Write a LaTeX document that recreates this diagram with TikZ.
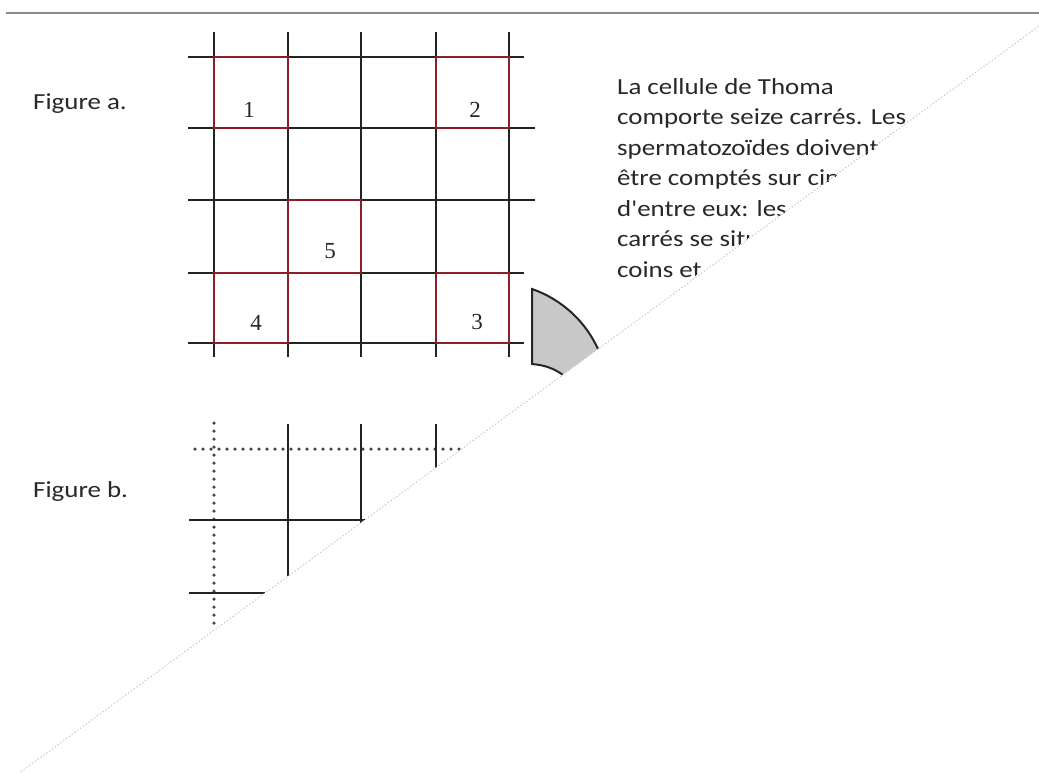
\documentclass[tikz,border=0pt]{standalone}
\usepackage{fontspec}
\setmainfont{Carlito}
\newfontfamily\numfont{Liberation Serif}
\definecolor{gridc}{RGB}{35,35,35}
\definecolor{redsq}{RGB}{140,30,40}
\definecolor{txt}{RGB}{40,40,40}
\definecolor{shapefill}{RGB}{200,200,200}
\begin{document}
\begin{tikzpicture}[x=1pt,y=-1pt,
  gridline/.style={draw=gridc, line width=1.8pt},
  redbox/.style={draw=redsq, line width=2.5pt},
  cellnum/.style={font=\numfont\fontsize{23}{23}\selectfont, text=black!85, inner sep=0pt},
  bodytext/.style={font=\fontsize{23}{23}\selectfont, text=txt, inner sep=0pt, anchor=base west},
  dotline/.style={draw=black!75, line width=3.5pt, line cap=round, dash pattern=on 0pt off 8pt},
  cutline/.style={draw=black!22, line width=0.9pt, dash pattern=on 1.5pt off 2pt},
  toprule/.style={draw=black!45, line width=2pt},
]
\path[use as bounding box, fill=white] (0,0) rectangle (1039,772);

% top rule
\coordinate (tl) at (6,13);
\coordinate (tr) at (1039,13);
\draw[toprule] (tl) -- (tr);

% labels
\node[bodytext] (figa) at (33,109) {\scalebox{1.17}[1]{Figure a.}};
\node[bodytext] (figb) at (33,497) {\scalebox{1.17}[1]{Figure b.}};

% grid a
\foreach \x in {214,288,361,436,509}
  \draw[gridline] (\x,32) -- (\x,357);
\draw[gridline] (188,57) -- (524,57);
\draw[gridline] (188,128) -- (535,128);
\draw[gridline] (188,200) -- (535,200);
\draw[gridline] (188,273) -- (524,273);
\draw[gridline] (188,343) -- (524,343);

% counted squares
\draw[redbox] (214,57) rectangle (288,128);
\draw[redbox] (436,57) rectangle (509,128);
\draw[redbox] (288,200) rectangle (361,273);
\draw[redbox] (214,273) rectangle (288,343);
\draw[redbox] (436,273) rectangle (509,343);

\node[cellnum] (n1) at (249,110) {1};
\node[cellnum] (n2) at (475,110) {2};
\node[cellnum] (n5) at (330,251) {5};
\node[cellnum] (n4) at (256,323) {4};
\node[cellnum] (n3) at (477,322) {3};

% grey sector
\fill[shapefill] (532,289) .. controls (561.2,299.1) and (585.2,320.9) .. (598,349)
  -- (563,375) .. controls (555,369) and (545,365) .. (532,364) -- cycle;
\draw[line width=2pt, black!85] (598,349) .. controls (585.2,320.9) and (561.2,299.1) .. (532,289)
  -- (532,364) .. controls (545,365) and (555,369) .. (563,375);

% grid b
\draw[dotline] (214,423) -- (214,626);
\draw[dotline] (195,449) -- (461,449);
\draw[gridline] (288,424) -- (288,576);
\draw[gridline] (361,424) -- (361,522.7);
\draw[gridline] (436,424) -- (436,467.7);
\draw[gridline] (189,520) -- (364.6,520);
\draw[gridline] (189,593) -- (265,593);

% white cut-away
\fill[white] (20.7,772) -- (1039,26) -- (1039,772) -- cycle;

% text (cut along its own edge)
\begin{scope}
\clip (600,60) -- (999,60) -- (660,300) -- (600,300) -- cycle;
\node[bodytext] (t1) at (617,94) {\scalebox{1.17}[1]{La cellule de Thoma}};
\node[bodytext] (t2) at (617,124.5) {\scalebox{1.17}[1]{comporte seize carrés. Les}};
\node[bodytext] (t3) at (617,155) {\scalebox{1.17}[1]{spermatozoïdes doivent}};
\node[bodytext] (t4) at (617,185.5) {\scalebox{1.17}[1]{être comptés sur cin}};
\node[bodytext] (t5) at (617,216) {\scalebox{1.17}[1]{d\textquotesingle entre eux: les}};
\node[bodytext] (t6) at (617,246.5) {\scalebox{1.17}[1]{carrés se situ}};
\node[bodytext] (t7) at (617,277) {\scalebox{1.17}[1]{coins et}};
\end{scope}

% faint fold line
\coordinate (c1) at (20.7,772);
\coordinate (c2) at (1039,26);
\draw[cutline] (c1) -- (c2);
\end{tikzpicture}
\end{document}
